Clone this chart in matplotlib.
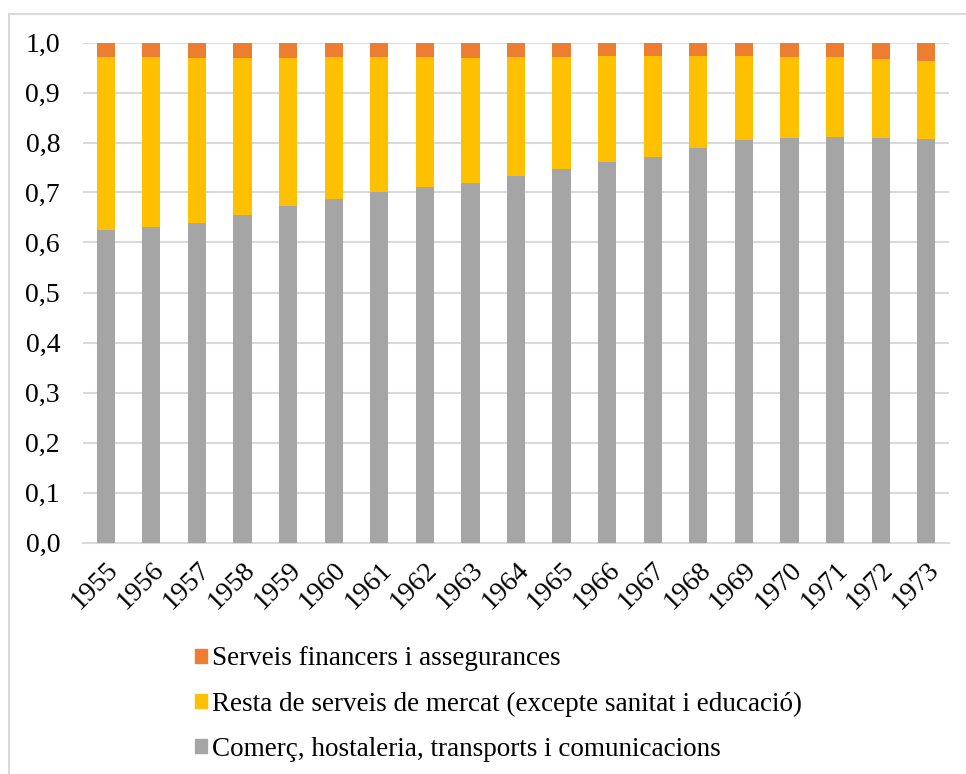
import numpy as np
import matplotlib.pyplot as plt
from matplotlib.lines import Line2D
from matplotlib.patches import Patch

plt.rcParams['font.family'] = ['Liberation Serif', 'DejaVu Serif']

years = [str(y) for y in range(1955, 1974)]
# shares of each sector (stacked to 1.0)
comerc = [0.625, 0.632, 0.639, 0.656, 0.674, 0.688, 0.702, 0.712, 0.720, 0.734,
          0.748, 0.761, 0.772, 0.790, 0.806, 0.809, 0.812, 0.810, 0.808]
resta_top = [0.971, 0.971, 0.970, 0.970, 0.969, 0.971, 0.971, 0.971, 0.970, 0.971,
             0.971, 0.973, 0.973, 0.973, 0.973, 0.972, 0.972, 0.967, 0.963]
resta = [t - c for t, c in zip(resta_top, comerc)]
financers = [1.0 - t for t in resta_top]

labels = ["Comerç, hostaleria, transports i comunicacions",
          "Resta de serveis de mercat (excepte sanitat i educació)",
          "Serveis financers i assegurances"]
colors = ["#A5A5A5", "#FFC000", "#ED7D31"]

fig = plt.figure(figsize=(9.66, 7.74), dpi=100)
ax = fig.add_axes([83 / 966, 1 - 542.5 / 774, (949 - 83) / 966, 500 / 774])

x = np.arange(len(years))
w = 0.4
ax.bar(x, comerc, w, color=colors[0], zorder=3)
ax.bar(x, resta, w, bottom=comerc, color=colors[1], zorder=3)
ax.bar(x, financers, w, bottom=resta_top, color=colors[2], zorder=3)

ax.set_xlim(-0.5, len(years) - 0.5)
ax.set_ylim(0, 1.0)
ax.set_yticks(np.arange(0, 1.01, 0.1))
ax.set_yticklabels([f"{v:.1f}".replace(".", ",") for v in np.arange(0, 1.01, 0.1)], fontsize=20)
ax.set_xticks(x)
ax.set_xticklabels(years, rotation=45, ha="right", rotation_mode="anchor", fontsize=20)
ax.tick_params(axis="both", length=0, colors="black")
ax.tick_params(axis="y", pad=16.5)
ax.tick_params(axis="x", pad=11)
ax.grid(axis="y", color="#D9D9D9", linewidth=1.5, zorder=0)
for s in ["top", "right", "left"]:
    ax.spines[s].set_visible(False)
ax.spines["bottom"].set_color("#D9D9D9")
ax.spines["bottom"].set_linewidth(1.5)

handles = [Patch(color=colors[i]) for i in [2, 1, 0]]
fig.legend(handles, [labels[i] for i in [2, 1, 0]], loc="upper left",
           bbox_to_anchor=(190 / 966, 1 - 641 / 774), frameon=False, fontsize=19.5,
           handlelength=0.42, handleheight=0.42, handletextpad=0.2, labelspacing=0.74,
           borderaxespad=0, borderpad=0.2)

# outer chart border (only top and left visible in this crop)
fig.add_artist(Line2D([9 / 966, 1], [1 - 14 / 774, 1 - 14 / 774], color="#D9D9D9", linewidth=1.5))
fig.add_artist(Line2D([9 / 966, 9 / 966], [0, 1 - 14 / 774], color="#D9D9D9", linewidth=1.5))

fig.savefig("out.png", dpi=100)
